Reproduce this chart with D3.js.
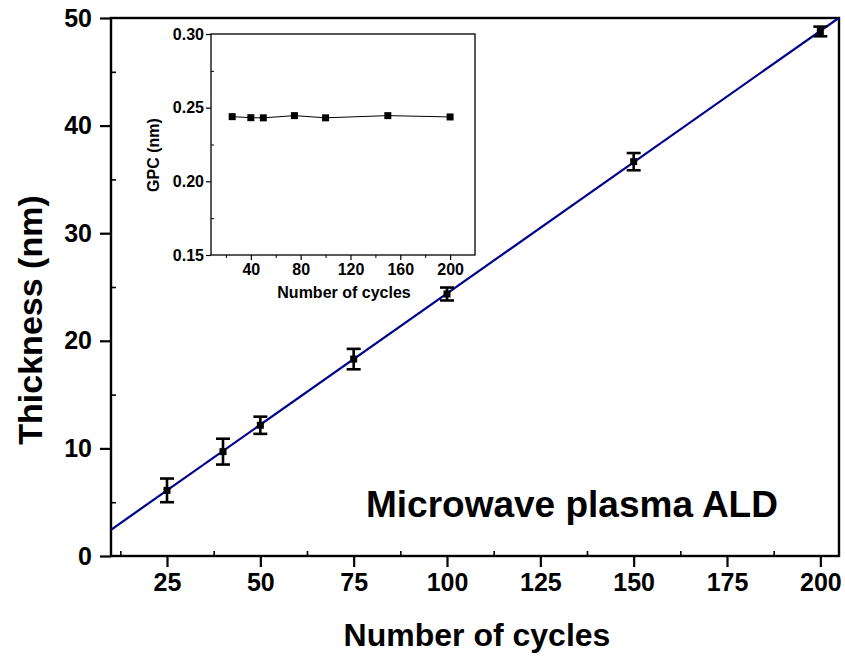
<!DOCTYPE html>
<html>
<head>
<meta charset="utf-8">
<script src="https://cdn.jsdelivr.net/npm/d3@7"></script>
<style>
  html, body { margin: 0; padding: 0; background: #fff; }
  svg { display: block; }
  text { font-family: "Liberation Sans", Arial, Helvetica, sans-serif; font-weight: bold; fill: #000; }
</style>
</head>
<body>
<svg id="chart" width="845" height="657"></svg>
<script>
// Film thickness vs. number of ALD cycles
const cycles = [25, 40, 50, 75, 100, 150, 200];
const thickness = [6.1, 9.7, 12.15, 18.3, 24.35, 36.65, 48.75];
const thicknessErr = [1.1, 1.2, 0.8, 0.95, 0.6, 0.8, 0.45];

// Linear fit of thickness vs. cycles
const fitSlope = 0.2440;
const fitIntercept = 0.0;

// Growth per cycle (inset)
const gpc = [0.2439, 0.2432, 0.2431, 0.2446, 0.2431, 0.2446, 0.2437];

// Tick values
const xTicks = [25, 50, 75, 100, 125, 150, 175, 200];
const xMinorTicks = [12.5, 37.5, 62.5, 87.5, 112.5, 137.5, 162.5, 187.5];
const yTicks = [0, 10, 20, 30, 40, 50];
const yMinorTicks = [5, 15, 25, 35, 45];
const insetXTicks = [40, 80, 120, 160, 200];
const insetXMinorTicks = [20, 60, 100, 140, 180];
const insetYTicks = [0.15, 0.20, 0.25, 0.30];
const insetYMinorTicks = [0.175, 0.225, 0.275];

const svg = d3.select("#chart");

// ---------- main plot ----------
const P = { left: 111, top: 18, right: 839, bottom: 556 };
const x = d3.scaleLinear().domain([10, 205]).range([P.left, P.right]);
const y = d3.scaleLinear().domain([0, 50]).range([P.bottom, P.top]);

svg.append("defs").append("clipPath").attr("id", "plotClip")
  .append("rect").attr("x", P.left).attr("y", P.top)
  .attr("width", P.right - P.left).attr("height", P.bottom - P.top);

// bottom axis: major ticks outward, minor ticks inward
const xAxisG = svg.append("g").attr("transform", `translate(0,${P.bottom})`)
  .call(d3.axisBottom(x).tickValues(xTicks).tickSize(11).tickPadding(6).tickFormat(d3.format("d")));
xAxisG.select(".domain").remove();
xAxisG.selectAll(".tick line").attr("stroke", "#000").attr("stroke-width", 2.2);
xAxisG.selectAll(".tick text").style("font-size", "25px");

const xMinorG = svg.append("g").attr("transform", `translate(0,${P.bottom})`)
  .call(d3.axisBottom(x).tickValues(xMinorTicks).tickSize(-5).tickFormat(""));
xMinorG.select(".domain").remove();
xMinorG.selectAll(".tick line").attr("stroke", "#000").attr("stroke-width", 1.6);

// left axis
const yAxisG = svg.append("g").attr("transform", `translate(${P.left},0)`)
  .call(d3.axisLeft(y).tickValues(yTicks).tickSize(11).tickPadding(8).tickFormat(d3.format("d")));
yAxisG.select(".domain").remove();
yAxisG.selectAll(".tick line").attr("stroke", "#000").attr("stroke-width", 2.2);
yAxisG.selectAll(".tick text").style("font-size", "25px");

const yMinorG = svg.append("g").attr("transform", `translate(${P.left},0)`)
  .call(d3.axisLeft(y).tickValues(yMinorTicks).tickSize(-5).tickFormat(""));
yMinorG.select(".domain").remove();
yMinorG.selectAll(".tick line").attr("stroke", "#000").attr("stroke-width", 1.6);

// frame
svg.append("rect")
  .attr("x", P.left).attr("y", P.top)
  .attr("width", P.right - P.left).attr("height", P.bottom - P.top)
  .attr("fill", "none").attr("stroke", "#000").attr("stroke-width", 2.4);

// fit line
const fitDomain = x.domain();
svg.append("line")
  .attr("clip-path", "url(#plotClip)")
  .attr("x1", x(fitDomain[0])).attr("y1", y(fitSlope * fitDomain[0] + fitIntercept))
  .attr("x2", x(fitDomain[1])).attr("y2", y(fitSlope * fitDomain[1] + fitIntercept))
  .attr("stroke", "#00008b").attr("stroke-width", 2.2);

// error bars and markers
const pts = cycles.map((c, i) => ({ c, t: thickness[i], e: thicknessErr[i] }));
const eb = svg.append("g").attr("stroke", "#000").attr("stroke-width", 2.6).attr("fill", "none");
eb.selectAll("line.v").data(pts).join("line").attr("class", "v")
  .attr("x1", d => x(d.c)).attr("x2", d => x(d.c))
  .attr("y1", d => y(d.t + d.e)).attr("y2", d => y(d.t - d.e));
eb.selectAll("line.top").data(pts).join("line").attr("class", "top")
  .attr("x1", d => x(d.c) - 7).attr("x2", d => x(d.c) + 7)
  .attr("y1", d => y(d.t + d.e)).attr("y2", d => y(d.t + d.e));
eb.selectAll("line.bot").data(pts).join("line").attr("class", "bot")
  .attr("x1", d => x(d.c) - 7).attr("x2", d => x(d.c) + 7)
  .attr("y1", d => y(d.t - d.e)).attr("y2", d => y(d.t - d.e));
svg.append("g").selectAll("rect").data(pts).join("rect")
  .attr("x", d => x(d.c) - 3.5).attr("y", d => y(d.t) - 3.5)
  .attr("width", 7).attr("height", 7).attr("fill", "#000");

// axis titles
svg.append("text")
  .attr("x", 477).attr("y", 646).attr("text-anchor", "middle")
  .style("font-size", "32px").text("Number of cycles");
svg.append("text")
  .attr("transform", "translate(42,320) rotate(-90)").attr("text-anchor", "middle")
  .style("font-size", "34px").text("Thickness (nm)");

// annotation
svg.append("text")
  .attr("x", 366).attr("y", 517)
  .style("font-size", "37px").text("Microwave plasma ALD");

// ---------- inset ----------
const I = { left: 211, top: 34, right: 475, bottom: 255 };
const ix = d3.scaleLinear().domain([8, 220]).range([I.left, I.right]);
const iy = d3.scaleLinear().domain([0.15, 0.30]).range([I.bottom, I.top]);

const ixAxis = svg.append("g").attr("transform", `translate(0,${I.bottom})`)
  .call(d3.axisBottom(ix).tickValues(insetXTicks).tickSize(5).tickPadding(4).tickFormat(d3.format("d")));
ixAxis.select(".domain").remove();
ixAxis.selectAll(".tick line").attr("stroke", "#000").attr("stroke-width", 1.2);
ixAxis.selectAll(".tick text").style("font-size", "16px");

const ixMinor = svg.append("g").attr("transform", `translate(0,${I.bottom})`)
  .call(d3.axisBottom(ix).tickValues(insetXMinorTicks).tickSize(3).tickFormat(""));
ixMinor.select(".domain").remove();
ixMinor.selectAll(".tick line").attr("stroke", "#000").attr("stroke-width", 1);

const iyAxis = svg.append("g").attr("transform", `translate(${I.left},0)`)
  .call(d3.axisLeft(iy).tickValues(insetYTicks).tickSize(5).tickPadding(2).tickFormat(d3.format(".2f")));
iyAxis.select(".domain").remove();
iyAxis.selectAll(".tick line").attr("stroke", "#000").attr("stroke-width", 1.2);
iyAxis.selectAll(".tick text").style("font-size", "16px");

const iyMinor = svg.append("g").attr("transform", `translate(${I.left},0)`)
  .call(d3.axisLeft(iy).tickValues(insetYMinorTicks).tickSize(-3).tickFormat(""));
iyMinor.select(".domain").remove();
iyMinor.selectAll(".tick line").attr("stroke", "#000").attr("stroke-width", 1);

svg.append("rect")
  .attr("x", I.left).attr("y", I.top)
  .attr("width", I.right - I.left).attr("height", I.bottom - I.top)
  .attr("fill", "none").attr("stroke", "#000").attr("stroke-width", 1.3);

const ipts = cycles.map((c, i) => ({ c, g: gpc[i] }));
svg.append("path").datum(ipts)
  .attr("fill", "none").attr("stroke", "#000").attr("stroke-width", 1)
  .attr("d", d3.line().x(d => ix(d.c)).y(d => iy(d.g)));
svg.append("g").selectAll("rect").data(ipts).join("rect")
  .attr("x", d => ix(d.c) - 3.5).attr("y", d => iy(d.g) - 3.5)
  .attr("width", 7).attr("height", 7).attr("fill", "#000");

svg.append("text")
  .attr("x", 344).attr("y", 298).attr("text-anchor", "middle")
  .style("font-size", "16px").text("Number of cycles");
svg.append("text")
  .attr("transform", "translate(159,155) rotate(-90)").attr("text-anchor", "middle")
  .style("font-size", "16px").text("GPC (nm)");
</script>
</body>
</html>
